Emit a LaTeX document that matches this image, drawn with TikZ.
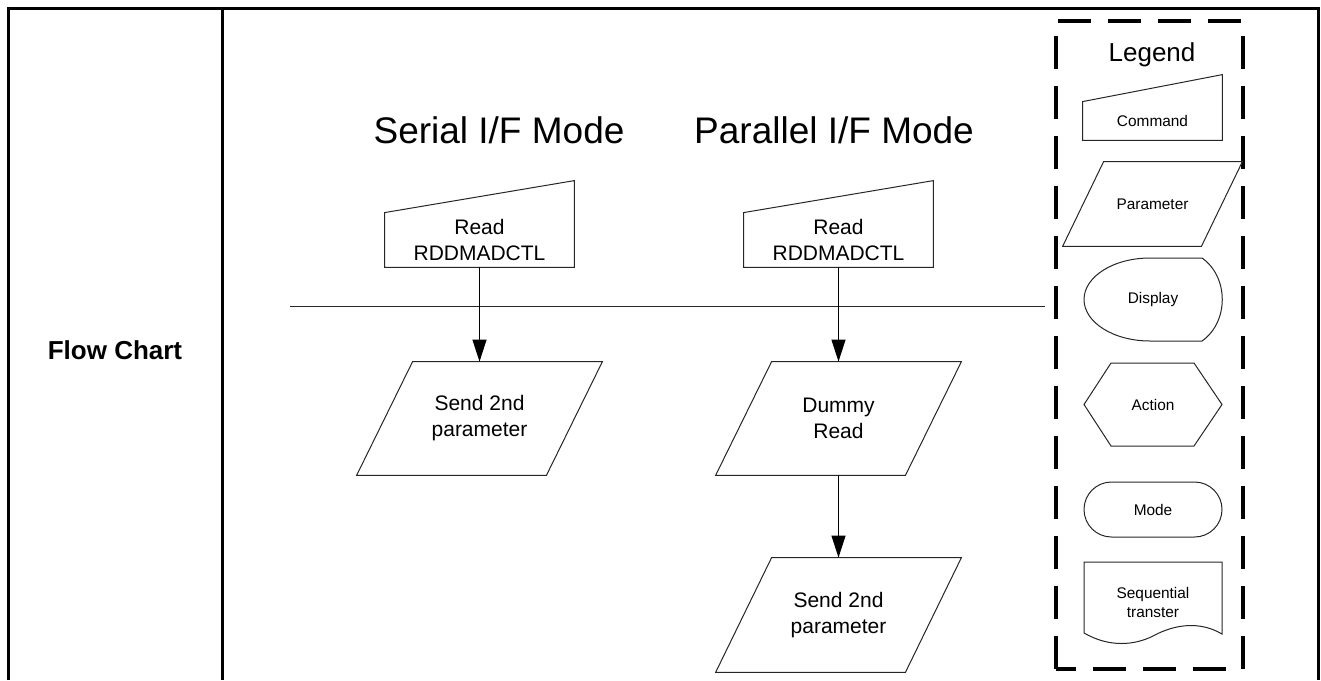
\documentclass[tikz,border=0pt]{standalone}
\usepackage{fontspec}
\setmainfont{Liberation Sans}
\usetikzlibrary{arrows.meta}

\newcommand{\cmdoutline}[2]{%
	\draw[outline] (#1.south west) -- (#1.north west) -- ([yshift=#2]#1.north east) -- (#1.south east) -- cycle;}
\newcommand{\paraoutline}[2]{%
	\draw[outline] ([xshift=#2]#1.north west) -- (#1.north east) -- ([xshift=-#2]#1.south east) -- (#1.south west) -- cycle;}

\begin{document}
\begin{tikzpicture}[x=0.5pt, y=-0.5pt,
	outline/.style={draw=black!85, line width=0.5pt},
	txt/.style={inner sep=0pt, align=center, font=\fontsize{10.5}{13}\selectfont},
	legtext/.style={inner sep=0pt, align=center, font=\fontsize{7.7}{9.5}\selectfont},
	flow/.style={draw=black, line width=0.5pt, -{Triangle[length=11pt, width=7pt]}}]
	\useasboundingbox (0,0) rectangle (1321,680);
	\draw[line width=1.5pt] (8,680) -- (8,8) -- (1318,8) -- (1318,680);
	\draw[line width=1.5pt] (222,8) -- (222,680);
	\node[font=\bfseries\fontsize{13}{15}\selectfont] (rowlabel) at (115,350) {Flow Chart};
	
	\foreach \x/\t in {499/Serial, 834/Parallel} {
		\node[anchor=base, font=\fontsize{18.5}{22}\selectfont] (title\t) at (\x,143) {\t{} I/F Mode};
	}
	\draw[outline] (290,306) -- (1045,306);
	
	\node[txt, minimum width=94.5pt, minimum height=27pt] (serialcmd) at (479.5,240) {Read\\RDDMADCTL};
	\cmdoutline{serialcmd}{16pt}
	\node[txt, minimum width=122.5pt, minimum height=56.5pt] (serialsend) at (479.5,418.5) {Send 2nd\\parameter};
	\paraoutline{serialsend}{28pt}
	\draw[flow] (serialcmd.south) -- (serialsend.north);
	
	\node[txt, minimum width=94.5pt, minimum height=27pt] (parcmd) at (838.5,240) {Read\\RDDMADCTL};
	\cmdoutline{parcmd}{16pt}
	\node[txt, minimum width=122.5pt, minimum height=56.5pt] (pardummy) at (838.5,418.5) {Dummy\\Read};
	\paraoutline{pardummy}{28pt}
	\node[txt, minimum width=122.5pt, minimum height=57pt] (parsend) at (838.5,615) {Send 2nd\\parameter};
	\paraoutline{parsend}{28pt}
	\draw[flow] (parcmd.south) -- (pardummy.north);
	\draw[flow] (pardummy.south) -- (parsend.north);
	
	\node[anchor=base, font=\fontsize{13}{15}\selectfont] (legend) at (1152,61) {Legend};
	\draw[line width=2pt, dash pattern=on 16.5pt off 8.5pt] (1056,669) -- (1056,21) -- (1243,21) -- (1243,669) -- cycle;
	\node[legtext, minimum width=69.5pt, minimum height=19pt] (legcmd) at (1152.5,121) {Command};
	\cmdoutline{legcmd}{13.5pt}
	\node[legtext, minimum width=89.5pt, minimum height=42pt] (legpar) at (1152.5,204) {Parameter};
	\paraoutline{legpar}{20.5pt}
	\node[legtext] (legdisp) at (1153,299.5) {Display};
	\draw[outline] (1202,258) -- (1150,258) .. controls (1113.5,258) and (1084,276.6) .. (1084,299.5)
		.. controls (1084,322.4) and (1113.5,341) .. (1150,341) -- (1202,341)
		.. controls (1229,322) and (1229,277) .. (1202,258) -- cycle;
	\node[legtext] (legact) at (1153,404.5) {Action};
	\draw[outline] (1084,404.5) -- (1111,363) -- (1194,363) -- (1222,404.5) -- (1194,446) -- (1111,446) -- cycle;
	\node[legtext, outline, rounded corners=13.75pt, minimum width=69pt, minimum height=27.5pt] (legmode) at (1153,509.5) {Mode};
	\node[legtext] (legseq) at (1153,602.5) {Sequential\\transter};
	\draw[outline] (1084,633) -- (1084,562) -- (1222,562) -- (1222,634)
		.. controls (1200,621) and (1175,624) .. (1153,636)
		.. controls (1135,645) and (1110,648) .. (1084,633) -- cycle;
	
\end{tikzpicture}
\end{document}
